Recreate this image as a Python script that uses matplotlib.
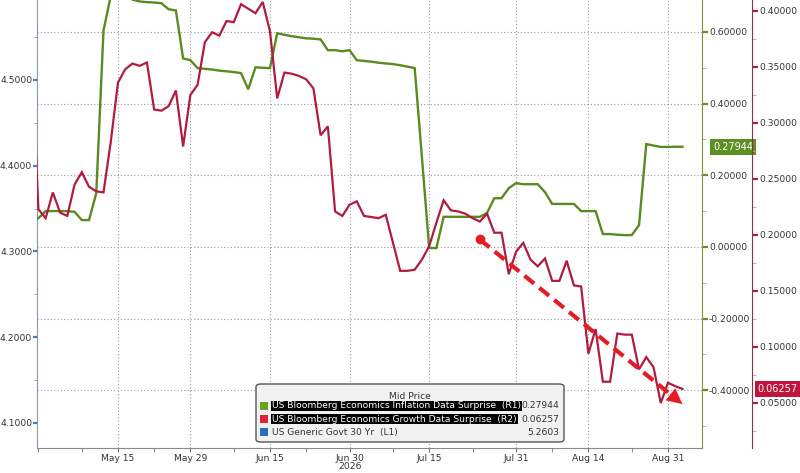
import numpy as np
import pandas as pd
import matplotlib
matplotlib.use("Agg")
import matplotlib.pyplot as plt
from matplotlib.patches import FancyBboxPatch, Rectangle
from matplotlib.ticker import FixedLocator, FixedFormatter

plt.rcParams['font.family'] = ['DejaVu Sans']

# ── Data (weekdays, Apr 29 .. Sep 2 2026) ───────────────────────────────────
ORIGIN = '2026-04-30'
dates = pd.bdate_range('2026-04-29', '2026-09-02')

inflation_surprise = [  # R1
    0.090, 0.080, 0.100, 0.100, 0.100, 0.100, 0.098, 0.075, 0.075, 0.150,
    0.604, 0.700, 0.710, 0.705, 0.690, 0.685, 0.683, 0.682, 0.680, 0.663,
    0.660, 0.526, 0.521, 0.499, 0.497, 0.495, 0.492, 0.490, 0.488, 0.485,
    0.440, 0.501, 0.500, 0.499, 0.596, 0.592, 0.588, 0.585, 0.582, 0.581,
    0.579, 0.549, 0.549, 0.546, 0.549, 0.521, 0.519, 0.517, 0.514, 0.512,
    0.510, 0.507, 0.503, 0.499, 0.250, -0.003, -0.003, 0.084, 0.084, 0.084,
    0.084, 0.084, 0.084, 0.095, 0.136, 0.136, 0.164, 0.178, 0.175, 0.175,
    0.175, 0.153, 0.120, 0.120, 0.120, 0.120, 0.100, 0.100, 0.100, 0.036,
    0.036, 0.034, 0.033, 0.033, 0.061, 0.287, 0.283, 0.279, 0.279, 0.2795,
    0.27944,
]

growth_surprise = [  # R2
    0.375, 0.223, 0.215, 0.238, 0.220, 0.217, 0.245, 0.256, 0.243, 0.239,
    0.238, 0.283, 0.336, 0.348, 0.353, 0.351, 0.354, 0.312, 0.311, 0.315,
    0.329, 0.279, 0.325, 0.334, 0.372, 0.381, 0.378, 0.391, 0.390, 0.406,
    0.402, 0.398, 0.408, 0.382, 0.322, 0.345, 0.344, 0.342, 0.339, 0.331,
    0.289, 0.297, 0.221, 0.217, 0.227, 0.230, 0.217, 0.216, 0.215, 0.218,
    0.193, 0.168, 0.168, 0.169, 0.178, 0.190, 0.211, 0.231, 0.222, 0.221,
    0.219, 0.215, 0.212, 0.219, 0.202, 0.202, 0.165, 0.185, 0.193, 0.178,
    0.172, 0.179, 0.159, 0.159, 0.177, 0.155, 0.154, 0.094, 0.116, 0.069,
    0.069, 0.112, 0.111, 0.111, 0.080, 0.091, 0.082, 0.050, 0.068, 0.065,
    0.06257,
]

legend_labels = ['US Bloomberg Economics Inflation Data Surprise  (R1)',
                 'US Bloomberg Economics Growth Data Surprise  (R2)',
                 'US Generic Govt 30 Yr  (L1)']
legend_values = ['0.27944', '0.06257', '5.2603']

major_days = ['2026-05-15', '2026-05-29', '2026-06-15', '2026-06-30',
              '2026-07-15', '2026-07-31', '2026-08-14', '2026-08-31']
major_labels = ['May 15', 'May 29', 'Jun 15', 'Jun 30',
                'Jul 15', 'Jul 31', 'Aug 14', 'Aug 31']
minor_days = ['2026-04-30', '2026-05-08', '2026-05-22', '2026-06-08',
              '2026-06-22', '2026-07-08', '2026-07-23', '2026-08-07',
              '2026-08-24']

l1_ticks = [4.1, 4.2, 4.3, 4.4, 4.5]
r1_ticks = [-0.4, -0.2, 0.0, 0.2, 0.4, 0.6]
r2_ticks = [0.05, 0.10, 0.15, 0.20, 0.25, 0.30, 0.35, 0.40]

trend_start = ('2026-07-24', 0.196)
trend_end = ('2026-09-02', 0.049)

# ── Colours ────────────────────────────────────────────────────────────────
GREEN = '#5b8a22'
RED = '#b01c40'
ARROW_RED = '#e31b23'
GRID = '#9a9a9a'
TEXT = '#333333'
FS = 6.6


def bpos(d):
    """weekday offset from ORIGIN"""
    return np.busday_count(ORIGIN, np.array(d, dtype='datetime64[D]'))


x = bpos(dates.values.astype('datetime64[D]'))

W, H = 800, 473
fig = plt.figure(figsize=(W / 100, H / 100), dpi=100)
fig.patch.set_facecolor('white')

ax = fig.add_axes([37 / W, 25 / H, 665 / W, 448 / H])
ax.set_xlim(-0.19, 91.7)
ax.set_ylim(4.0708, 4.5933)

r1 = ax.twinx()
r1.set_ylim(-0.561, 0.689)
r2 = ax.twinx()
r2.set_ylim(0.0098, 0.4098)
r2.spines['right'].set_position(('axes', 715 / 665))

for a in (ax, r1, r2):
    a.spines['top'].set_visible(False)
for a in (r1, r2):
    a.spines['left'].set_visible(False)
    a.spines['bottom'].set_visible(False)
ax.spines['right'].set_visible(False)
ax.spines['left'].set_color('#8a97a8')
ax.spines['bottom'].set_color('#8a8a8a')
r1.spines['right'].set_color('#808f40')
r2.spines['right'].set_color('#8c3048')

# ── Axes ticks ──
ax.xaxis.set_major_locator(FixedLocator(bpos(major_days)))
ax.xaxis.set_major_formatter(FixedFormatter(major_labels))
ax.xaxis.set_minor_locator(FixedLocator(bpos(minor_days)))
ax.tick_params(axis='x', which='both', length=3, color='#777777',
               labelsize=FS, labelcolor=TEXT, pad=1.5)

ax.yaxis.set_major_locator(FixedLocator(l1_ticks))
ax.yaxis.set_major_formatter(FixedFormatter([f'{v:.4f}' for v in l1_ticks]))
ax.yaxis.set_minor_locator(FixedLocator([v + 0.05 for v in l1_ticks]))
ax.tick_params(axis='y', which='major', length=3, width=1.6,
               color='#4f7bb0', labelsize=FS, labelcolor=TEXT, pad=0.5)
ax.tick_params(axis='y', which='minor', length=2, color='#999999')

r1.yaxis.set_major_locator(FixedLocator(r1_ticks))
r1.yaxis.set_major_formatter(FixedFormatter([f'{v + 0:.5f}' for v in r1_ticks]))
r1.yaxis.set_minor_locator(FixedLocator([v + 0.1 for v in r1_ticks[:-1]] + [-0.5]))
r1.tick_params(axis='y', which='major', length=4, width=1.6,
               color='#6f8a2a', labelsize=FS, labelcolor=TEXT, pad=1)
r1.tick_params(axis='y', which='minor', length=3, color='#aaaaaa')

r2.yaxis.set_major_locator(FixedLocator(r2_ticks))
r2.yaxis.set_major_formatter(FixedFormatter([f'{v:.5f}' for v in r2_ticks]))
r2.yaxis.set_minor_locator(FixedLocator([v - 0.025 for v in r2_ticks] + [0.425]))
r2.tick_params(axis='y', which='major', length=4, width=1.6,
               color='#b01c40', labelsize=FS, labelcolor=TEXT, pad=1)
r2.tick_params(axis='y', which='minor', length=3, color='#aaaaaa')

# ── Grid ──
ax.grid(axis='x', which='major', color=GRID, lw=0.8, ls=(0, (1, 2)))
r1.grid(axis='y', which='major', color=GRID, lw=0.8, ls=(0, (1, 2)))

ax.text(bpos('2026-06-30'), -0.042, '2026', transform=ax.get_xaxis_transform(),
        ha='center', va='center', fontsize=FS, color=TEXT)

# ── Series ──
r1.plot(x, inflation_surprise, color=GREEN, lw=1.7, solid_joinstyle='miter')
r2.plot(x, growth_surprise, color=RED, lw=1.6, solid_joinstyle='miter')

# ── Trend arrow ──
x0, y0 = bpos(trend_start[0]), trend_start[1]
x1, y1 = bpos(trend_end[0]), trend_end[1]
xb, yb = x0 + 0.93 * (x1 - x0), y0 + 0.93 * (y1 - y0)
r2.plot([x0, xb], [y0, yb], color=ARROW_RED, lw=3, ls=(0, (3, 1.6)),
        solid_capstyle='butt', zorder=5)
r2.plot([x0], [y0], 'o', color=ARROW_RED, ms=6, zorder=6)
r2.annotate('', xy=(x1, y1), xytext=(xb - 0.1 * (x1 - x0), yb - 0.1 * (y1 - y0)),
            arrowprops=dict(arrowstyle='-|>,head_length=1.1,head_width=0.55',
                            color=ARROW_RED, lw=0.1, shrinkA=0, shrinkB=0),
            annotation_clip=False, zorder=6)

# ── Last-value badges ──
r1.annotate(legend_values[0], xy=(1.0, inflation_surprise[-1]),
            xycoords=r1.get_yaxis_transform(), xytext=(8, 0),
            textcoords='offset points', ha='left', va='center', fontsize=7,
            color='white', annotation_clip=False,
            bbox=dict(boxstyle='square,pad=0.3', fc='#5e8f22', ec='none'))
r2.annotate(legend_values[1], xy=(715 / 665, growth_surprise[-1]),
            xycoords=r2.get_yaxis_transform(), xytext=(4, 0),
            textcoords='offset points', ha='left', va='center', fontsize=7,
            color='white', annotation_clip=False,
            bbox=dict(boxstyle='square,pad=0.3', fc='#c0143c', ec='none'))

# ── Legend panel ──
fx = lambda px: px / W
fy = lambda py: 1 - py / H
panel = FancyBboxPatch((fx(256), fy(442)), fx(564) - fx(256), fy(384) - fy(442),
                       boxstyle='round,pad=0,rounding_size=0.006',
                       transform=fig.transFigure, fc='#f1f1f1', ec='#555555',
                       lw=1, zorder=10)
fig.add_artist(panel)
fig.text(fx(410), fy(396), 'Mid Price', ha='center', va='center',
         fontsize=FS, color=TEXT, zorder=11)

swatches = ['#6aa121', '#e0203a', '#2a6ebb']
for i, (lab, val, sw) in enumerate(zip(legend_labels, legend_values, swatches)):
    yy = 406 + i * 13
    fig.add_artist(Rectangle((fx(260), fy(yy + 4)), fx(268) - fx(260),
                             fy(yy - 4) - fy(yy + 4), transform=fig.transFigure,
                             fc=sw, ec='none', zorder=11))
    if i < 2:
        fig.text(fx(272), fy(yy), lab, ha='left', va='center', fontsize=FS,
                 color='white', zorder=11,
                 bbox=dict(boxstyle='square,pad=0.1', fc='black', ec='none'))
    else:
        fig.text(fx(272), fy(yy), lab, ha='left', va='center', fontsize=FS,
                 color=TEXT, zorder=11)
    fig.text(fx(559), fy(yy), val, ha='right', va='center', fontsize=FS,
             color=TEXT, zorder=11)

fig.savefig('out.png', dpi=100, facecolor='white')
